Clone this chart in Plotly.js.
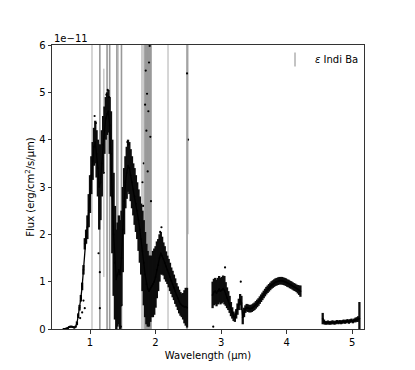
<!DOCTYPE html>
<html>
<head>
<meta charset="utf-8">
<script src="https://cdn.plot.ly/plotly-3.0.1.min.js"></script>
<style>html,body{margin:0;padding:0;background:#fff;}#chart{width:415px;height:370px;}</style>
</head>
<body>
<div id="chart"></div>
<script>
// Main spectrum, segment 1 (µm, flux in 1e-11 erg/cm2/s/µm, scatter half-width)
var wave1 = [0.60,0.62,0.64,0.66,0.68,0.70,0.72,0.74,0.76,0.78,0.80,0.82,0.84,0.86,0.88,0.90,0.92,0.94,0.96,0.98,
  1.00,1.02,1.04,1.06,1.08,1.10,1.12,1.14,1.16,1.18,1.20,1.22,1.24,1.26,1.28,1.30,1.32,1.34,1.36,1.38,
  1.40,1.42,1.44,1.46,1.48,1.50,1.52,1.54,1.56,1.58,1.60,1.62,1.64,1.66,1.68,1.70,1.72,1.74,1.76,1.78,
  1.80,1.82,1.84,1.86,1.88,1.90,1.92,1.94,1.96,1.98,2.00,2.02,2.04,2.06,2.08,2.10,2.12,2.14,2.16,2.18,
  2.20,2.22,2.24,2.26,2.28,2.30,2.32,2.34,2.36,2.38,2.40,2.42,2.44,2.46,2.48];
var flux1 = [0.00,0.00,0.01,0.02,0.04,0.05,0.05,0.04,0.03,0.05,0.12,0.28,0.45,0.65,0.90,1.25,1.80,1.95,2.15,2.50,
  2.85,3.25,3.55,3.85,3.95,3.70,3.40,3.00,3.10,3.50,3.90,4.20,4.45,4.55,4.60,4.30,3.70,2.80,2.00,1.40,
  1.05,1.15,1.25,1.15,1.50,2.10,2.70,3.10,3.30,3.45,3.40,3.25,3.10,2.95,2.80,2.65,2.50,2.30,2.10,1.90,
  1.65,1.40,1.15,0.95,0.85,0.80,0.85,0.90,0.95,1.00,1.10,1.25,1.35,1.50,1.60,1.55,1.48,1.40,1.32,1.25,
  1.18,1.10,1.02,0.95,0.88,0.80,0.72,0.65,0.58,0.53,0.50,0.48,0.47,0.47,0.45];
var err1 = [0.02,0.02,0.02,0.02,0.02,0.02,0.02,0.02,0.02,0.02,0.04,0.05,0.06,0.07,0.08,0.10,0.12,0.15,0.25,0.35,
  0.40,0.40,0.40,0.40,0.45,0.50,0.60,0.90,0.80,0.70,0.60,0.50,0.45,0.45,0.45,0.60,0.90,1.20,1.30,1.20,
  1.05,1.10,1.15,1.15,1.00,0.90,0.70,0.55,0.55,0.55,0.55,0.55,0.55,0.55,0.60,0.60,0.60,0.65,0.70,0.75,
  0.85,0.90,0.90,0.85,0.80,0.75,0.70,0.65,0.70,0.70,0.65,0.60,0.55,0.50,0.45,0.40,0.35,0.35,0.32,0.30,
  0.30,0.30,0.28,0.28,0.27,0.27,0.25,0.25,0.25,0.25,0.25,0.28,0.35,0.40,0.42];

// Segment 2
var wave2 = [2.87,2.89,2.91,2.93,2.95,2.97,2.99,3.01,3.03,3.05,3.07,3.09,3.11,3.13,3.15,3.17,3.19,3.21,3.23,3.25,
  3.27,3.29,3.31,3.33,3.35,3.37,3.39,3.41,3.43,3.45,3.47,3.49,3.51,3.53,3.55,3.57,3.59,3.61,3.63,3.65,
  3.67,3.69,3.71,3.73,3.75,3.77,3.79,3.81,3.83,3.85,3.87,3.89,3.91,3.93,3.95,3.97,3.99,4.01,4.03,4.05,
  4.07,4.09,4.11,4.13,4.15,4.17,4.19,4.21];
var flux2 = [0.72,0.78,0.80,0.76,0.80,0.84,0.80,0.82,0.85,0.82,0.74,0.66,0.60,0.52,0.42,0.34,0.27,0.24,0.32,0.42,
  0.52,0.62,0.55,0.25,0.35,0.42,0.45,0.44,0.43,0.43,0.44,0.46,0.48,0.51,0.54,0.57,0.61,0.65,0.69,0.73,
  0.77,0.81,0.84,0.87,0.90,0.93,0.95,0.97,0.99,1.00,1.01,1.02,1.02,1.02,1.01,1.00,0.99,0.97,0.96,0.94,
  0.93,0.91,0.89,0.88,0.86,0.84,0.82,0.80];
var err2 = [0.28,0.28,0.28,0.28,0.28,0.28,0.28,0.28,0.28,0.30,0.25,0.22,0.20,0.18,0.15,0.12,0.10,0.09,0.10,0.12,
  0.12,0.12,0.15,0.15,0.10,0.08,0.08,0.08,0.08,0.08,0.08,0.08,0.08,0.08,0.08,0.08,0.08,0.08,0.08,0.08,
  0.08,0.08,0.08,0.08,0.08,0.08,0.08,0.08,0.08,0.08,0.08,0.08,0.08,0.08,0.08,0.08,0.08,0.08,0.08,0.08,
  0.08,0.08,0.08,0.08,0.08,0.09,0.10,0.12];

// Segment 3
var wave3 = [4.55,4.57,4.59,4.61,4.63,4.65,4.67,4.69,4.71,4.73,4.75,4.77,4.79,4.81,4.83,4.85,4.87,4.89,4.91,4.93,
  4.95,4.97,4.99,5.01,5.03,5.05,5.07,5.09,5.11];
var flux3 = [0.22,0.15,0.13,0.13,0.14,0.13,0.13,0.14,0.14,0.13,0.14,0.15,0.14,0.15,0.14,0.15,0.16,0.15,0.16,0.17,
  0.15,0.17,0.18,0.16,0.18,0.19,0.20,0.21,0.22];
var err3 = [0.12,0.05,0.04,0.04,0.04,0.04,0.04,0.04,0.04,0.04,0.04,0.04,0.04,0.04,0.04,0.04,0.04,0.04,0.04,0.04,
  0.04,0.04,0.04,0.04,0.04,0.05,0.05,0.06,0.35];

// Scattered single points (noise spikes outside the dense band)
var outWave = [0.85,0.88,0.90,0.92,1.07,1.09,1.13,1.15,1.25,1.27,1.29,1.47,1.57,1.59,2.07,2.09,2.88,3.06,3.30];
var outFlux = [0.23,0.35,0.60,0.44,4.50,4.35,1.60,1.20,4.95,5.05,4.90,0.05,3.95,3.90,2.05,2.15,0.05,1.30,1.00];

// Points with very large uncertainties (light and dark grey bars)
var lightWave = [1.03,1.21,1.43,1.79,1.80,1.81,1.82,1.83,2.19,2.495];
var lightFlux = [3.30,3.30,1.20,2.30,3.10,2.60,3.50,2.00,1.20,4.00];
var lightErr  = [10,2.2,10,10,10,10,10,10,10,2.0];
var darkWave = [1.15,1.26,1.30,1.41,1.48,1.84,1.85,1.86,1.87,1.88,1.89,1.90,1.91,1.92,1.93,2.48];
var darkFlux = [0.44,4.60,4.40,0.30,0.50,4.74,5.46,4.19,4.97,3.33,4.60,5.63,5.98,4.06,2.70,5.40];
var darkErr  = [10,10,10,10,10,10,10,10,10,10,10,10,10,10,10,10];

var legendName = '<i>ε</i> Indi Ba';

function specTrace(x, y, e) {
  return {x: x, y: y, type: 'scatter', mode: 'lines+markers', showlegend: false, hoverinfo: 'skip',
    line: {color: '#000', width: 1.3},
    marker: {color: '#000', size: 1.8},
    error_y: {type: 'data', array: e, visible: true, color: '#0d0d0d', thickness: 2.3, width: 0}};
}

var traces = [
  {x: lightWave, y: lightFlux, type: 'scatter', mode: 'markers', showlegend: false, hoverinfo: 'skip',
    marker: {color: '#000', size: 2.2},
    error_y: {type: 'data', array: lightErr, visible: true, color: '#cccccc', thickness: 1.6, width: 0}},
  {x: darkWave, y: darkFlux, type: 'scatter', mode: 'markers', showlegend: false, hoverinfo: 'skip',
    marker: {color: '#000', size: 2.2},
    error_y: {type: 'data', array: darkErr, visible: true, color: '#999999', thickness: 1.6, width: 0}},
  specTrace(wave1, flux1, err1),
  specTrace(wave2, flux2, err2),
  specTrace(wave3, flux3, err3),
  {x: outWave, y: outFlux, type: 'scatter', mode: 'markers', showlegend: false, hoverinfo: 'skip',
    marker: {color: '#000', size: 2.2}},
  {x: [null], y: [null], type: 'scatter', mode: 'markers', name: legendName, showlegend: true,
    marker: {symbol: 'line-ns-open', size: 10, color: '#888', line: {color: '#888', width: 1}}}
];

var font = {family: 'DejaVu Sans, sans-serif', size: 10, color: '#000'};

var layout = {
  width: 415, height: 370,
  margin: {l: 52, r: 51, t: 45, b: 41},
  paper_bgcolor: '#fff', plot_bgcolor: '#fff',
  font: font,
  showlegend: true,
  legend: {x: 1, xanchor: 'right', y: 1, yanchor: 'top', bgcolor: 'rgba(0,0,0,0)', borderwidth: 0,
    font: {family: 'DejaVu Sans, sans-serif', size: 10, color: '#000'}},
  xaxis: {range: [0.42, 5.18], tickvals: [1,2,3,4,5], ticktext: ['1','2','3','4','5'],
    ticks: 'outside', ticklen: 3.5, tickwidth: 0.8, tickcolor: '#000',
    showline: true, linecolor: '#333', linewidth: 1, mirror: true, showgrid: false, zeroline: false,
    title: {text: 'Wavelength (µm)', font: font, standoff: 5}},
  yaxis: {range: [0, 6], tickvals: [0,1,2,3,4,5,6], ticktext: ['0','1','2','3','4','5','6'],
    ticks: 'outside', ticklen: 3.5, tickwidth: 0.8, tickcolor: '#000',
    showline: true, linecolor: '#333', linewidth: 1, mirror: true, showgrid: false, zeroline: false,
    title: {text: 'Flux (erg/cm<sup>2</sup>/s/µm)', font: font, standoff: 2}},
  annotations: [{text: '1e−11', xref: 'paper', yref: 'paper', x: 0, y: 1, xanchor: 'left', yanchor: 'bottom',
    showarrow: false, font: font, yshift: -1}]
};

Plotly.newPlot('chart', traces, layout, {staticPlot: true, displayModeBar: false});
</script>
</body>
</html>
